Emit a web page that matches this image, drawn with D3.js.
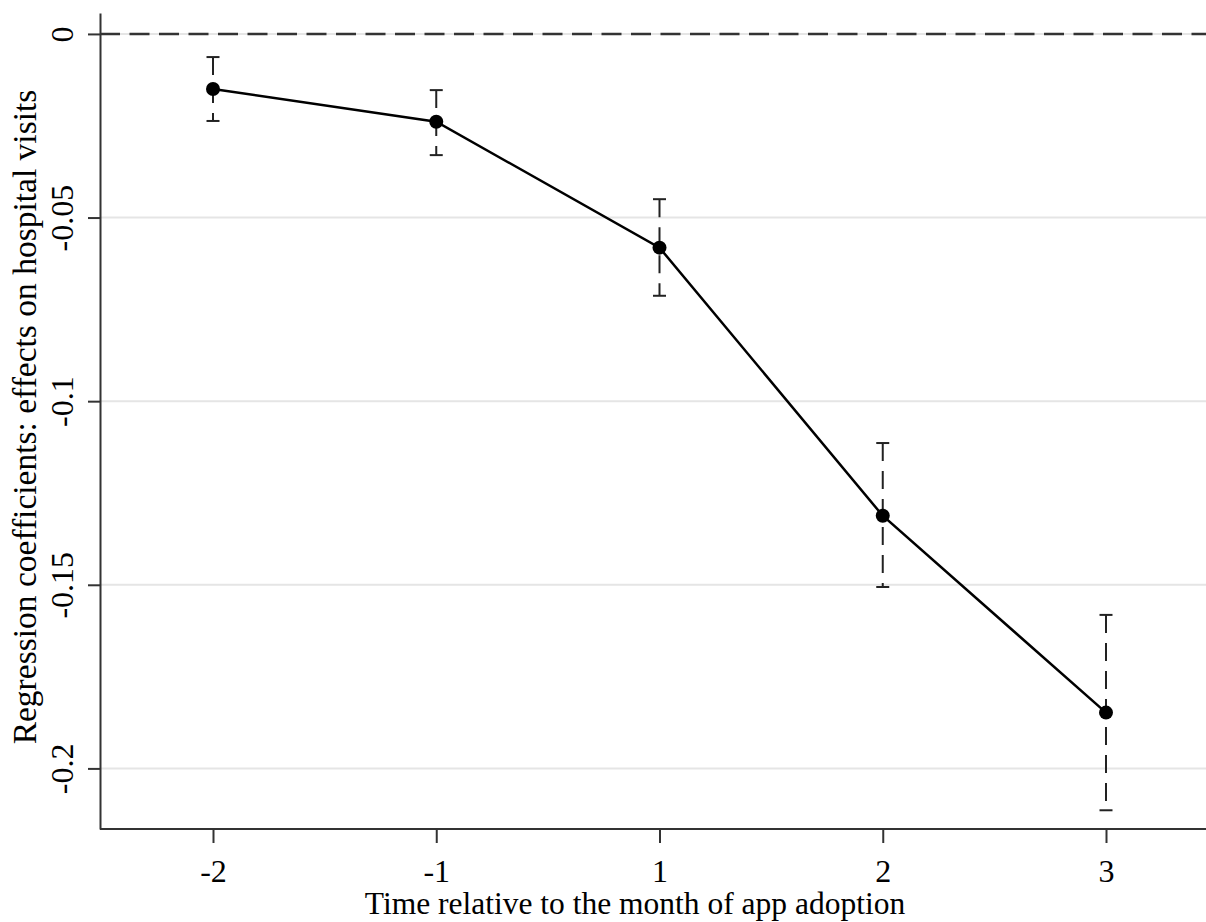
<!DOCTYPE html>

<body style="margin:0;background:#fff">
  <style>
    svg {
      font-family: "Liberation Serif", "Times New Roman", serif;
    }

    .grid line {
      stroke: #e5e5e5;
      stroke-width: 2px;
    }

    .axis path,
    .axis line {
      stroke: #333;
      stroke-width: 2px;
    }

    .axis text {
      fill: #000;
      font-family: "Liberation Serif", "Times New Roman", serif;
    }
  </style>
  <div id="chart"></div>
  <script src="https://d3js.org/d3.v7.min.js"></script>
  <script>
    //************* data ************
    var periods = ["-2", "-1", "1", "2", "3"];
    var coef = [-0.0150, -0.0239, -0.0582, -0.1312, -0.1848];
    var lower = [-0.0237, -0.0330, -0.0713, -0.1506, -0.2114];
    var upper = [-0.0063, -0.0153, -0.0450, -0.1114, -0.1582];
    var yTicks = [0, -0.05, -0.1, -0.15, -0.2];

    var xLabel = "Time relative to the month of app adoption";
    var yLabel = "Regression coefficients: effects on hospital visits";

    var data = periods.map(function(p, i) {
      return {
        period: p,
        coef: coef[i],
        lo: lower[i],
        hi: upper[i]
      };
    });

    var W = 1206,
      H = 922;
    var margin = {
      top: 13,
      right: 0,
      bottom: 93,
      left: 100
    };

    var svg = d3.select("#chart")
      .append("svg")
      .attr("width", W)
      .attr("height", H);

    // point positions: first category sits 113px in, last 100px before the edge
    var x = d3.scalePoint()
      .domain(periods)
      .range([margin.left + 113, W - margin.right - 100]);

    var y = d3.scaleLinear()
      .domain([-0.2165, 0.0057])
      .range([H - margin.bottom, margin.top]);

    var fmt = function(d) {
      return String(+d.toFixed(2));
    };

    // gridlines
    svg.append("g")
      .attr("class", "grid")
      .selectAll("line")
      .data(yTicks)
      .enter().append("line")
      .attr("x1", margin.left)
      .attr("x2", W)
      .attr("y1", function(d) { return y(d); })
      .attr("y2", function(d) { return y(d); });

    // zero reference line
    svg.append("line")
      .attr("x1", margin.left)
      .attr("x2", W)
      .attr("y1", y(0))
      .attr("y2", y(0))
      .style("stroke", "#333")
      .style("stroke-width", 2.5)
      .style("stroke-dasharray", "20,9.5");

    // Y axis
    var gy = svg.append("g")
      .attr("class", "axis")
      .attr("transform", "translate(" + margin.left + ",0)")
      .call(d3.axisLeft(y)
        .tickValues(yTicks)
        .tickFormat(fmt)
        .tickSize(12)
        .tickSizeOuter(0));

    gy.selectAll("text")
      .attr("transform", "rotate(-90)")
      .attr("x", 0)
      .attr("y", -27)
      .attr("dy", 0)
      .attr("text-anchor", "middle")
      .style("font-size", "32px");

    // X axis
    var gx = svg.append("g")
      .attr("class", "axis")
      .attr("transform", "translate(0," + (H - margin.bottom) + ")")
      .call(d3.axisBottom(x)
        .tickSize(14)
        .tickSizeOuter(0));

    gx.select(".domain")
      .attr("d", "M" + margin.left + ",0H" + W);

    gx.selectAll("text")
      .attr("y", 53)
      .attr("dy", 0)
      .style("font-size", "32px");

    // axis titles
    svg.append("text")
      .attr("x", 635)
      .attr("y", 914)
      .attr("text-anchor", "middle")
      .style("font-size", "31.5px")
      .text(xLabel);

    svg.append("text")
      .attr("transform", "translate(36," + 417 + ") rotate(-90)")
      .attr("text-anchor", "middle")
      .style("font-size", "33.5px")
      .text(yLabel);

    //********* error bars ****************
    var bars = svg.append("g")
      .selectAll("g")
      .data(data)
      .enter().append("g");

    bars.append("line")
      .attr("x1", function(d) { return x(d.period); })
      .attr("x2", function(d) { return x(d.period); })
      .attr("y1", function(d) { return y(d.hi); })
      .attr("y2", function(d) { return y(d.lo); })
      .style("stroke", "#222")
      .style("stroke-width", 2)
      .style("stroke-dasharray", "18,10");

    bars.selectAll(".cap")
      .data(function(d) { return [d.hi, d.lo].map(function(v) { return { p: d.period, v: v }; }); })
      .enter().append("line")
      .attr("class", "cap")
      .attr("x1", function(d) { return x(d.p) - 6.5; })
      .attr("x2", function(d) { return x(d.p) + 6.5; })
      .attr("y1", function(d) { return y(d.v); })
      .attr("y2", function(d) { return y(d.v); })
      .style("stroke", "#222")
      .style("stroke-width", 2);

    //********* coefficient line ****************
    var line = d3.line()
      .x(function(d) { return x(d.period); })
      .y(function(d) { return y(d.coef); });

    svg.append("path")
      .datum(data)
      .attr("d", line)
      .style("fill", "none")
      .style("stroke", "#000")
      .style("stroke-width", 2.5);

    svg.append("g")
      .selectAll("circle")
      .data(data)
      .enter().append("circle")
      .attr("cx", function(d) { return x(d.period); })
      .attr("cy", function(d) { return y(d.coef); })
      .attr("r", 7)
      .style("fill", "#000");
  </script>
</body>
